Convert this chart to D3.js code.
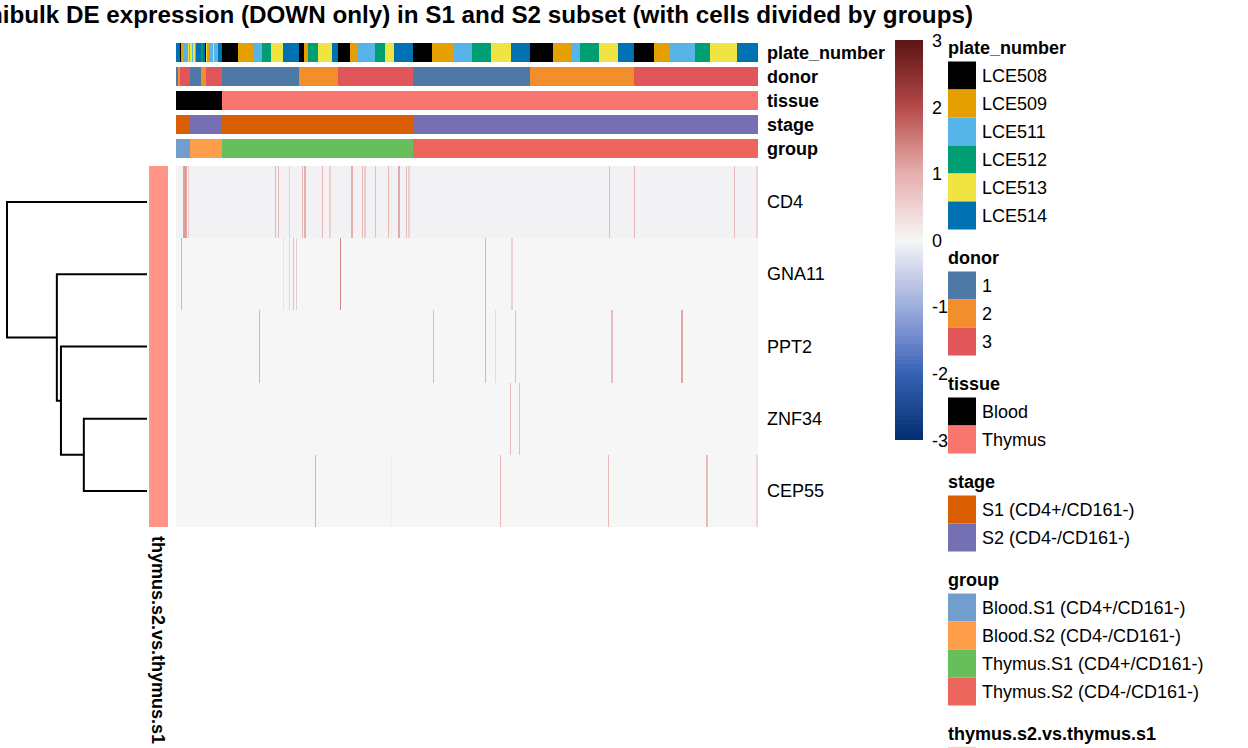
<!DOCTYPE html>
<html><head><meta charset="utf-8">
<script src="https://cdn.jsdelivr.net/npm/d3@7"></script>
<style>
body{margin:0;background:#fff}
svg{display:block}
text{font-family:"Liberation Sans",Arial,Helvetica,sans-serif;fill:#000}
</style>
</head><body>
<svg id="c" width="1248" height="748"></svg>
<script>
// ---------------- DATA ----------------
const titleText = "Minibulk DE expression (DOWN only) in S1 and S2 subset (with cells divided by groups)";
const genes = ["CD4", "GNA11", "PPT2", "ZNF34", "CEP55"];
const nCells = 582;
const geneBaseline = [-0.05, 0, 0, 0, 0];
// sparse non-zero cells: [cell index, scaled expression]
const hitsCD4 = [[7,1.15],[8,1.2],[9,1.2],[10,1.15],[12,0.6],[99,0.9],[102,0.9],[113,0.55],[126,0.9],[128,1.0],[129,1.0],[146,0.9],[153,0.55],[154,0.55],[175,1.0],[176,1.0],[186,0.9],[188,0.6],[189,0.6],[199,0.8],[212,0.9],[215,0.2],[222,1.05],[223,1.05],[230,0.8],[232,0.55],[233,0.55],[433,0.8],[458,0.9],[558,0.8],[580,0.45],[581,0.45]];
const hitsGNA11 = [[5,1.0],[107,0.3],[113,0.5],[117,0.8],[120,0.6],[164,1.4],[309,1.0],[335,0.55],[336,0.55]];
const hitsPPT2 = [[83,1.0],[257,0.9],[309,1.0],[319,0.45],[339,0.85],[435,0.8],[436,0.8],[505,1.1],[506,1.1]];
const hitsZNF34 = [[334,0.8],[343,0.8]];
const hitsCEP55 = [[139,1.0],[215,0.12],[324,0.9],[432,0.85],[530,0.85],[531,0.85],[580,0.5],[581,0.5]];
const geneHits = [hitsCD4, hitsGNA11, hitsPPT2, hitsZNF34, hitsCEP55];

// column annotations as runs [level, number of cells]
const plateRuns = [["LCE514",4],["LCE508",1],["LCE509",3],["LCE511",4],["LCE513",1],["LCE509",1],["LCE513",2],["LCE511",1],["LCE513",2],["LCE511",1],["LCE514",5],["LCE512",2],["LCE514",2],["LCE508",1],["LCE513",1],["LCE509",2],["LCE511",4],["LCE513",1],["LCE511",4],["LCE514",4],
  ["LCE508",16],["LCE509",15],["LCE511",9],["LCE512",9],["LCE513",12],["LCE514",16],
  ["LCE508",5],["LCE509",4],["LCE512",10],["LCE513",14],["LCE514",6],
  ["LCE508",12],["LCE509",8],["LCE511",17],["LCE512",10],["LCE513",9],["LCE514",19],
  ["LCE508",19],["LCE509",22],["LCE511",18],["LCE512",19],["LCE513",20],["LCE514",19],
  ["LCE508",23],["LCE509",18],["LCE511",9],["LCE512",19],["LCE513",19],["LCE514",16],
  ["LCE508",20],["LCE509",16],["LCE511",25],["LCE512",15],["LCE513",27],["LCE514",21]];
const donorRuns = [["1",2],["2",2],["3",10],["1",11],["2",5],["3",16],["1",77],["2",39],["3",75],["1",117],["2",104],["3",124]];
const tissueRuns = [["Blood",46],["Thymus",536]];
const stageRuns = [["S1 (CD4+/CD161-)",14],["S2 (CD4-/CD161-)",32],["S1 (CD4+/CD161-)",191],["S2 (CD4-/CD161-)",345]];
const groupRuns = [["Blood.S1 (CD4+/CD161-)",14],["Blood.S2 (CD4-/CD161-)",32],["Thymus.S1 (CD4+/CD161-)",191],["Thymus.S2 (CD4-/CD161-)",345]];

const plateLevels = ["LCE508","LCE509","LCE511","LCE512","LCE513","LCE514"];
const plateColors = ["#000000","#E69F00","#56B4E9","#009E73","#F0E442","#0072B2"];
const donorLevels = ["1","2","3"];
const donorColors = ["#4E79A7","#F28E2B","#E15759"];
const tissueLevels = ["Blood","Thymus"];
const tissueColors = ["#000000","#F8766D"];
const stageLevels = ["S1 (CD4+/CD161-)","S2 (CD4-/CD161-)"];
const stageColors = ["#D95F02","#7570B3"];
const groupLevels = ["Blood.S1 (CD4+/CD161-)","Blood.S2 (CD4-/CD161-)","Thymus.S1 (CD4+/CD161-)","Thymus.S2 (CD4-/CD161-)"];
const groupColors = ["#729ECE","#FF9E4A","#67BF5C","#ED665D"];
const rowAnnName = "thymus.s2.vs.thymus.s1";
const rowAnnLevels = ["DOWN"];
const rowAnnColors = ["#FF9488"];

// row dendrogram (hclust style merges; numbers refer to earlier merges)
const dendroMerge = [["ZNF34","CEP55"],["PPT2",0],["GNA11",1],["CD4",2]];
const dendroHeight = [1.85, 2.52, 2.64, 4.1];

// colour key
const keyTicks = [3,2,1,0,-1,-2,-3];
const keyStops = [-3,-2,-1,0,1,2,3];
const keyColors = ["#002F70","#3563B5","#9DADDD","#F6F6F6","#E5AFAF","#B54A4B","#5F1415"];

// ---------------- DRAW ----------------
const svg = d3.select("#c");
const color = d3.scaleLinear().domain(keyStops).range(keyColors).interpolate(d3.interpolateLab).clamp(true);
const x = d3.scaleLinear().domain([0, nCells]).range([176, 758]);
const yRow = d3.scaleBand().domain(genes).range([166, 527]);

function segs(runs){ let s=0; return runs.map(([k,n])=>{const o={key:k,start:s,end:s+n}; s+=n; return o;}); }

// title
const FS = 18;
const titleVisible = titleText.slice(titleText.indexOf("ibulk"));
const tmp = svg.append("text").attr("font-weight","bold").attr("font-size",20).text(titleVisible);
const w20 = tmp.node().getComputedTextLength(); tmp.remove();
const titleSize = 20 * 970.5 / w20;
svg.append("text").attr("x",973).attr("y",23).attr("text-anchor","end")
  .attr("font-weight","bold").attr("font-size",titleSize).text(titleText);

// column annotations
const tracks = [
  {name:"plate_number", runs:plateRuns, sc:d3.scaleOrdinal(plateLevels, plateColors)},
  {name:"donor", runs:donorRuns, sc:d3.scaleOrdinal(donorLevels, donorColors)},
  {name:"tissue", runs:tissueRuns, sc:d3.scaleOrdinal(tissueLevels, tissueColors)},
  {name:"stage", runs:stageRuns, sc:d3.scaleOrdinal(stageLevels, stageColors)},
  {name:"group", runs:groupRuns, sc:d3.scaleOrdinal(groupLevels, groupColors)}
];
const yAnn = d3.scaleBand().domain(tracks.map(t=>t.name)).range([43,158]).paddingInner(5/24);
tracks.forEach(t=>{
  const g = svg.append("g");
  g.selectAll("rect").data(segs(t.runs)).join("rect")
    .attr("x",d=>x(d.start)).attr("width",d=>x(d.end)-x(d.start))
    .attr("y",yAnn(t.name)).attr("height",yAnn.bandwidth())
    .attr("fill",d=>t.sc(d.key)).attr("shape-rendering","crispEdges");
  svg.append("text").attr("x",767).attr("y",yAnn(t.name)+yAnn.bandwidth()/2)
    .attr("dominant-baseline","central").attr("font-weight","bold").attr("font-size",FS).text(t.name);
});

// heatmap body
genes.forEach((gname,gi)=>{
  const vals = new Array(nCells).fill(geneBaseline[gi]);
  geneHits[gi].forEach(([j,v])=>{ vals[j]=v; });
  svg.append("g").selectAll("rect").data(vals).join("rect")
    .attr("x",(d,j)=>x(j)).attr("width",(d,j)=>x(j+1)-x(j))
    .attr("y",yRow(gname)).attr("height",yRow.bandwidth())
    .attr("fill",d=>color(d)).attr("shape-rendering","crispEdges");
  svg.append("text").attr("x",767).attr("y",yRow(gname)+yRow.bandwidth()/2)
    .attr("dominant-baseline","central").attr("font-size",FS).text(gname);
});

// row annotation
svg.append("rect").attr("x",149).attr("width",19).attr("y",yRow.range()[0])
  .attr("height",yRow.range()[1]-yRow.range()[0]).attr("fill",rowAnnColors[0]);
svg.append("text").attr("transform","translate(158,536) rotate(90)")
  .attr("dominant-baseline","central").attr("font-weight","bold").attr("font-size",FS).text(rowAnnName);

// dendrogram
const dx = d3.scaleLinear().domain([0, d3.max(dendroHeight)]).range([147, 7]);
const nodes = [];
function pos(ref){
  if (typeof ref === "string") return {x:dx(0), y:yRow(ref)+yRow.bandwidth()/2};
  return nodes[ref];
}
const dg = svg.append("g").attr("fill","none").attr("stroke","#000").attr("stroke-width",2);
dendroMerge.forEach(([a,b],i)=>{
  const pa = pos(a), pb = pos(b), xm = dx(dendroHeight[i]);
  dg.append("path").attr("d",`M${pa.x},${pa.y}H${xm}V${pb.y}H${pb.x}`);
  nodes.push({x:xm, y:(pa.y+pb.y)/2});
});

// colour key
const ky = d3.scaleLinear().domain([-3,3]).range([439.5,40]);
const steps = d3.range(-3, 3, 0.06);
svg.append("g").selectAll("rect").data(steps).join("rect")
  .attr("x",895).attr("width",28)
  .attr("y",d=>ky(d+0.06)).attr("height",d=>ky(d)-ky(d+0.06)+0.5)
  .attr("fill",d=>color(d+0.03));
svg.append("g").selectAll("text").data(keyTicks).join("text")
  .attr("x",932).attr("y",d=>ky(d)+1).attr("dominant-baseline","central")
  .attr("font-size",FS).text(d=>d);

// legends
const legends = [
  {title:"plate_number", levels:plateLevels, colors:plateColors},
  {title:"donor", levels:donorLevels, colors:donorColors},
  {title:"tissue", levels:tissueLevels, colors:tissueColors},
  {title:"stage", levels:stageLevels, colors:stageColors},
  {title:"group", levels:groupLevels, colors:groupColors},
  {title:rowAnnName, levels:rowAnnLevels, colors:rowAnnColors}
];
let ly = 48;
legends.forEach(L=>{
  const g = svg.append("g");
  g.append("text").attr("x",948).attr("y",ly).attr("dominant-baseline","central")
    .attr("font-weight","bold").attr("font-size",FS).text(L.title);
  const y0 = ly + 13.5;
  L.levels.forEach((lv,i)=>{
    g.append("rect").attr("x",948).attr("y",y0+i*28).attr("width",28).attr("height",28).attr("fill",L.colors[i]);
    g.append("text").attr("x",982).attr("y",y0+i*28+14).attr("dominant-baseline","central")
      .attr("font-size",FS).text(lv);
  });
  ly = y0 + L.levels.length*28 + 28.5;
});
</script>
</body></html>
